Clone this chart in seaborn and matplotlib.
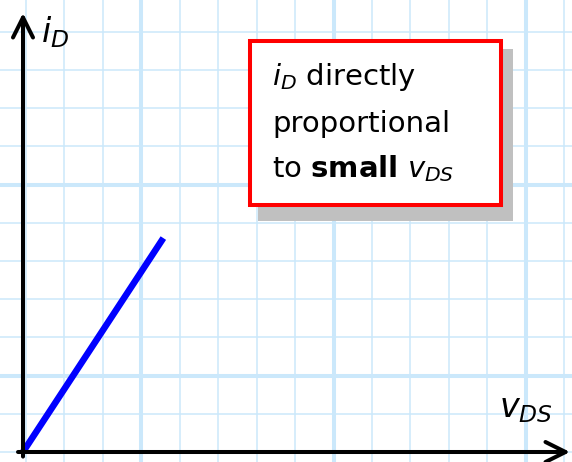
import matplotlib
matplotlib.use("Agg")
import matplotlib.pyplot as plt
from matplotlib.patches import Rectangle
import numpy as np
import pandas as pd
import seaborn as sns

# Linear (ohmic) region: drain current vs small drain-source voltage
v_ds = [0.0, 3.65]
i_d = [0.0, 5.6]

box_lines = [r"$i_D$ directly", "proportional", r"to $\mathbf{small}$ $v_{DS}$"]

sns.set_theme(style="white")
plt.rcParams["font.family"] = ["DejaVu Sans"]
plt.rcParams["mathtext.fontset"] = "dejavusans"
plt.rcParams["text.color"] = "black"

W, H = 572, 462
fig = plt.figure(figsize=(W / 100, H / 100), dpi=100)
ax = fig.add_axes([0, 0, 1, 1])

# graph-paper scale: one grid square in each direction
ux, uy = 38.45, 38.2
ox, oy = 23, 452
ax.set_xlim(-ox / ux, (W - ox) / ux)
ax.set_ylim(-(H - oy) / uy, oy / uy)

grid_c = "#cbe8fb"
xs_minor = np.arange(15) + 0.078
ys_minor = np.arange(12)
ax.set_xticks(xs_minor[3::5])
ax.set_xticks(xs_minor, minor=True)
ax.set_yticks(ys_minor[2::5])
ax.set_yticks(ys_minor, minor=True)
ax.grid(which="major", color=grid_c, lw=2.9)
ax.grid(which="minor", color=grid_c, lw=1.1)
ax.tick_params(which="both", length=0, labelbottom=False, labelleft=False)
for s in ax.spines.values():
    s.set_visible(False)
ax.set_axisbelow(True)

df = pd.DataFrame({"v_DS": v_ds, "i_D": i_d})
sns.lineplot(data=df, x="v_DS", y="i_D", ax=ax, color="#0000ff", lw=4.7,
             solid_capstyle="butt", zorder=3)
ax.set_xlabel("")
ax.set_ylabel("")

# axes with open arrowheads
arrow = dict(arrowstyle="->,head_length=0.72,head_width=0.36", lw=2.9,
             color="black", shrinkA=0, shrinkB=0, mutation_scale=20)
ax.annotate("", xy=(0, (oy - 13) / uy), xytext=(0, -0.12), arrowprops=arrow, zorder=4)
ax.annotate("", xy=((570 - ox) / ux, 0), xytext=(-0.13, 0), arrowprops=arrow, zorder=4)

ax.text(41 / W, 1 - 42 / H, r"$i_D$", transform=ax.transAxes, fontsize=24,
        ha="left", va="baseline", color="black")
ax.text(499 / W, 1 - 417 / H, r"$v_{DS}$", transform=ax.transAxes, fontsize=24,
        ha="left", va="baseline", color="black")

# callout box with drop shadow
ax.add_patch(Rectangle((258 / W, 1 - 221 / H), 255 / W, 172 / H,
                       transform=ax.transAxes, facecolor="#c0c0c0",
                       edgecolor="none", zorder=5))
ax.add_patch(Rectangle((250 / W, 1 - 205 / H), 251 / W, 164 / H,
                       transform=ax.transAxes, facecolor="white",
                       edgecolor="#ff0000", lw=2.9, zorder=6))
for txt, base in zip(box_lines, [85, 132, 177]):
    ax.text(272 / W, 1 - base / H, txt, transform=ax.transAxes, fontsize=21,
            ha="left", va="baseline", color="black", zorder=7)

fig.savefig("out.png", dpi=100)
